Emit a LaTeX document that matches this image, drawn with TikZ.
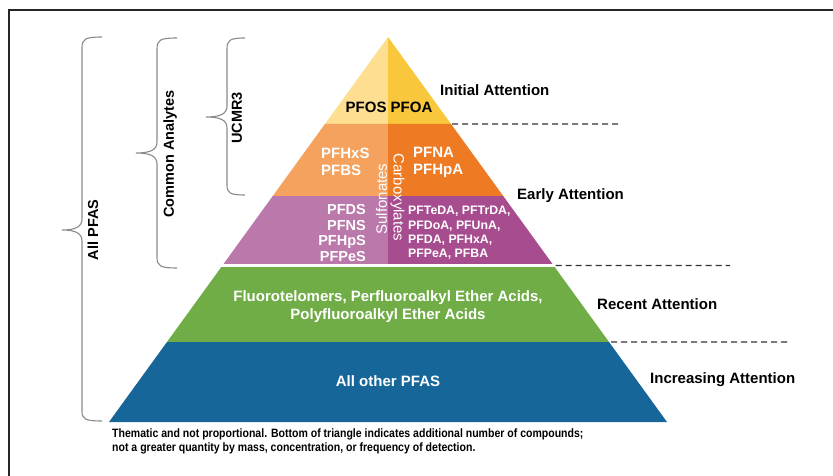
\documentclass[tikz,border=0pt]{standalone}
\usepackage{fontspec}
\setmainfont{Liberation Sans}
\newfontfamily\notefont[FakeStretch=0.87]{Liberation Sans}
\usetikzlibrary{calc}
\definecolor{yelL}{HTML}{FEDE90}
\definecolor{yelR}{HTML}{F9C73B}
\definecolor{oraL}{HTML}{F4A25E}
\definecolor{oraR}{HTML}{EE7B24}
\definecolor{purL}{HTML}{BB78AA}
\definecolor{purR}{HTML}{A64C8F}
\definecolor{grn}{HTML}{70AD47}
\definecolor{blu}{HTML}{166699}
\definecolor{bracegray}{HTML}{8A8A8A}
\begin{document}
\begin{tikzpicture}[x=1pt,y=-1pt,
  bandtext/.style={inner sep=0pt, text=white, font=\fontsize{15}{17}\selectfont\bfseries},
  attn/.style={inner sep=0pt, anchor=west, font=\fontsize{15}{18}\selectfont\bfseries},
  sidelabel/.style={inner sep=0pt, rotate=90, font=\fontsize{14.5}{17}\selectfont\bfseries},
  bracestyle/.style={draw=bracegray, line width=1.1pt},
  dashline/.style={draw=black!80, line width=1.2pt, dash pattern=on 6pt off 4pt}]
\useasboundingbox (0,0) rectangle (833,476);
% frame
\draw[line width=2pt, black!85] (9,476) -- (9,10) -- (833,10);
% pyramid geometry
\coordinate (A) at (388,37);
\coordinate (BL) at (109,422);
\coordinate (BR) at (667,422);
\coordinate (BM) at (388,422);
\foreach \n/\t in {1/0.22597,2/0.41299,3/0.59351,4/0.79221}{
  \coordinate (L\n) at ($(A)!\t!(BL)$);
  \coordinate (R\n) at ($(A)!\t!(BR)$);
  \coordinate (M\n) at ($(A)!\t!(BM)$);
}
\fill[yelL] (A) -- (M1) -- (L1) -- cycle;
\fill[yelR] (A) -- (M1) -- (R1) -- cycle;
\fill[oraL] (L1) -- (M1) -- (M2) -- (L2) -- cycle;
\fill[oraR] (M1) -- (R1) -- (R2) -- (M2) -- cycle;
\fill[purL] (L2) -- (M2) -- (M3) -- (L3) -- cycle;
\fill[purR] (M2) -- (R2) -- (R3) -- (M3) -- cycle;
\fill[grn] (L3) -- (R3) -- (R4) -- (L4) -- cycle;
\fill[blu] (L4) -- (R4) -- (BR) -- (BL) -- cycle;
\draw[white, line width=2.5pt] ($(L3)+(-2,0)$) -- ($(R3)+(2,0)$);
% dashed separators
\coordinate (D1) at (622,124);
\coordinate (D3) at (730,265.5);
\coordinate (D4) at (790,342);
\draw[dashline] ($(R1)+(1,0)$) -- (D1);
\draw[dashline] ($(R3)+(2,0)$) -- (D3);
\draw[dashline] ($(R4)+(2,0)$) -- (D4);
% texts in pyramid
\node[bandtext, text=black] (pfos) at (389,107) {PFOS PFOA};
\node[bandtext, anchor=west, align=left] (sulf1) at (321,162) {PFHxS\\PFBS};
\node[bandtext, anchor=west, align=left] (carb1) at (413,162) {PFNA\\PFHpA};
\node[inner sep=0pt, text=white, rotate=90, font=\fontsize{15}{17}\selectfont] (sulfo) at (381.5,199) {Sulfonates};
\node[inner sep=0pt, text=white, rotate=-90, font=\fontsize{15}{17}\selectfont] (carbo) at (397.5,197.5) {Carboxylates};
\node[bandtext, anchor=east, align=right, font=\fontsize{14.5}{15.5}\selectfont\bfseries] (sulf2) at (366,233) {PFDS\\PFNS\\PFHpS\\PFPeS};
\node[bandtext, anchor=west, align=left, font=\fontsize{12.3}{14.3}\selectfont\bfseries] (carb2) at (408,233) {PFTeDA, PFTrDA,\\PFDoA, PFUnA,\\PFDA, PFHxA,\\PFPeA, PFBA};
\node[bandtext, align=center, font=\fontsize{15}{18}\selectfont\bfseries] (recent) at (388,307) {Fluorotelomers, Perfluoroalkyl Ether Acids,\\Polyfluoroalkyl Ether Acids};
\node[bandtext] (other) at (388,381) {All other PFAS};
% attention labels
\node[attn] (a1) at (440,90) {Initial Attention};
\node[attn] (a2) at (517,196) {Early Attention};
\node[attn] (a3) at (597,304) {Recent Attention};
\node[attn] (a4) at (650,380) {Increasing Attention};
% braces
\draw[bracestyle] (102,37) .. controls (85,37) and (82,39) .. (82,48) -- (82,219) .. controls (82,227) and (75,230) .. (62,230) .. controls (75,230) and (82,233) .. (82,241) -- (82,411) .. controls (82,419) and (85,421) .. (102,421);
\draw[bracestyle] (177,38) .. controls (160,38) and (157,40) .. (157,49) -- (157,142) .. controls (157,150) and (150,153) .. (136,153) .. controls (150,153) and (157,156) .. (157,164) -- (157,257) .. controls (157,266) and (160,268) .. (177,268);
\draw[bracestyle] (245,38) .. controls (230,38) and (227,40) .. (227,49) -- (227,106) .. controls (227,114) and (220,117) .. (206,117) .. controls (220,117) and (227,120) .. (227,128) -- (227,185) .. controls (227,193) and (230,195) .. (245,195);
\node[sidelabel] (allpfas) at (93,230) {All PFAS};
\node[sidelabel] (common) at (170,154) {Common Analytes};
\node[sidelabel] (ucmr) at (237,118) {UCMR3};
% note
\node[inner sep=0pt, anchor=north west, align=left, font=\notefont\fontsize{12.1}{14}\selectfont\bfseries] (note) at (112,429) {Thematic and not proportional. Bottom of triangle indicates additional number of compounds;\\not a greater quantity by mass, concentration, or frequency of detection.};
\end{tikzpicture}
\end{document}
